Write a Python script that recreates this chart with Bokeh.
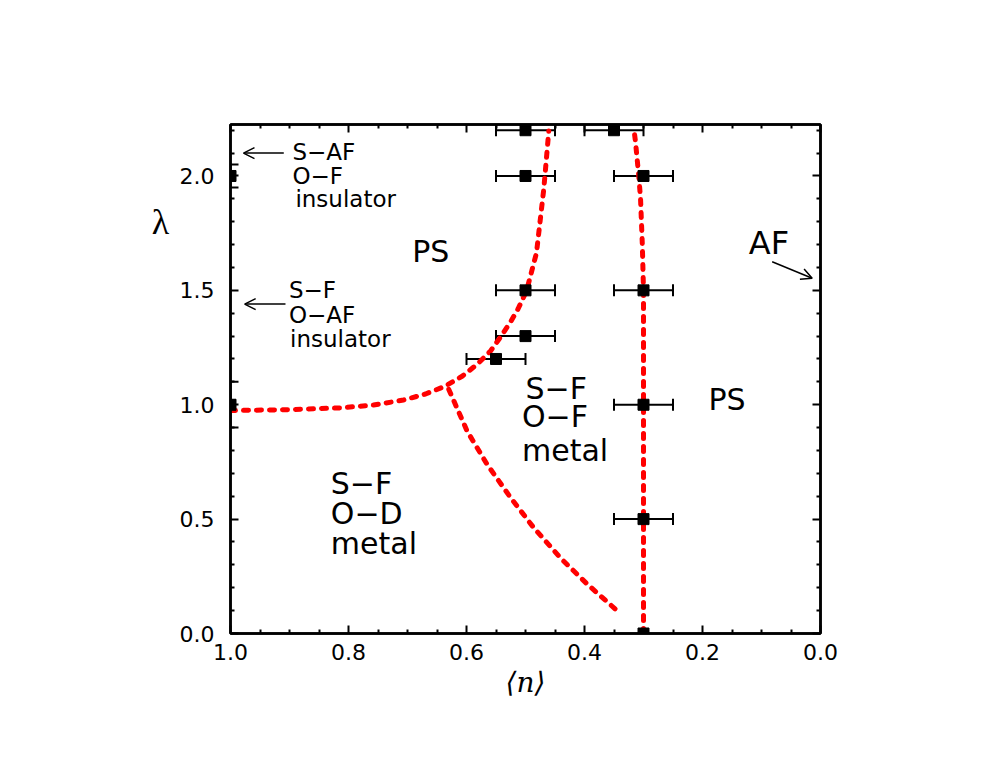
from bokeh.plotting import figure
from bokeh.models import (ColumnDataSource, Whisker, TeeHead, Arrow, OpenHead, Label,
                          LinearAxis, FixedTicker, Range1d, PrintfTickFormatter)
from bokeh.embed import file_html
from bokeh.resources import INLINE

# ---------------- data ----------------
x_major = [0.0, 0.2, 0.4, 0.6, 0.8, 1.0]
x_minor = [0.05, 0.1, 0.15, 0.25, 0.3, 0.35, 0.45, 0.5, 0.55, 0.65, 0.7, 0.75, 0.85, 0.9, 0.95]
y_major = [0.0, 0.5, 1.0, 1.5, 2.0]
y_minor = [0.1, 0.2, 0.3, 0.4, 0.6, 0.7, 0.8, 0.9, 1.1, 1.2, 1.3, 1.4,
           1.6, 1.7, 1.8, 1.9, 2.1, 2.2]

# phase boundaries (dashed red)
b1_n = [1.0, 0.8983, 0.8136, 0.7576, 0.7068, 0.6695, 0.6356, 0.6068, 0.5814, 0.5593,
        0.5424, 0.5254, 0.5127, 0.4983, 0.4814, 0.4690, 0.4605]
b1_l = [0.9746, 0.9786, 0.9864, 0.9987, 1.0206, 1.0468, 1.0818, 1.1255, 1.1779, 1.2347,
        1.2960, 1.3616, 1.4184, 1.4972, 1.6634, 1.9432, 2.197]
b2_n = [0.63, 0.599, 0.565, 0.525, 0.486, 0.441, 0.395, 0.347]
b2_l = [1.067, 0.885, 0.739, 0.593, 0.462, 0.331, 0.215, 0.105]
b3_n = [0.3, 0.3, 0.3, 0.3, 0.302, 0.305, 0.308, 0.3136, 0.316]
b3_l = [0.0, 0.5, 1.0, 1.5, 1.7, 1.9, 2.0, 2.15, 2.2]

# simulation points
pt_n = [1.0, 1.0, 0.5, 0.35, 0.5, 0.3, 0.5, 0.3, 0.5, 0.55, 0.3, 0.3, 0.3]
pt_l = [2.0, 1.0, 2.2, 2.2, 2.0, 2.0, 1.5, 1.5, 1.3, 1.2, 1.0, 0.5, 0.0]

# horizontal error bars
hx_n = [0.5, 0.35, 0.5, 0.3, 0.5, 0.3, 0.5, 0.55, 0.3, 0.3]
hx_l = [2.2, 2.2, 2.0, 2.0, 1.5, 1.5, 1.3, 1.2, 1.0, 0.5]
hx_err = [0.05, 0.05, 0.05, 0.05, 0.05, 0.05, 0.05, 0.05, 0.05, 0.05]

# vertical error bars
vy_n = [1.0, 1.0]
vy_l = [2.0, 1.0]
vy_err = [0.05, 0.1]

# region labels: (text, n, lambda)
small_labels = [("S\u2212AF", 0.895, 2.066), ("O\u2212F", 0.895, 1.961), ("insulator", 0.890, 1.862),
                ("S\u2212F", 0.901, 1.461), ("O\u2212AF", 0.901, 1.352), ("insulator", 0.899, 1.249)]
big_labels = [("PS", 0.692, 1.621), ("PS", 0.190, 0.976),
              ("S\u2212F", 0.500, 1.023), ("O\u2212F", 0.506, 0.902), ("metal", 0.506, 0.754),
              ("S\u2212F", 0.830, 0.608), ("O\u2212D", 0.830, 0.477), ("metal", 0.830, 0.346)]
af_label = ("AF", 0.1215, 1.655)

arrows = [(0.9097, 2.10, 0.978, 2.10), (0.9068, 1.44, 0.976, 1.44), (0.0819, 1.625, 0.0141, 1.553)]

# ---------------- figure ----------------
p = figure(x_range=Range1d(1.0, 0.0), y_range=Range1d(0.0, 2.225),
           width=969, height=745,
           min_border_left=230, min_border_right=149, min_border_top=124, min_border_bottom=112,
           toolbar_location=None, output_backend="svg", x_axis_label="\u27e8n\u27e9")
p.grid.visible = False
p.outline_line_color = "black"
p.outline_line_width = 2.5
p.background_fill_color = "white"
p.border_fill_color = "white"

xt = FixedTicker(ticks=x_major, minor_ticks=x_minor)
yt = FixedTicker(ticks=y_major, minor_ticks=y_minor)

p.add_layout(LinearAxis(), "above")
p.add_layout(LinearAxis(), "right")

for ax in p.xaxis:
    ax.ticker = xt
for ax in p.yaxis:
    ax.ticker = yt

for ax in list(p.xaxis) + list(p.yaxis):
    ax.axis_line_width = 2.5
    ax.axis_line_color = "black"
    ax.major_tick_in = 8
    ax.major_tick_out = 0
    ax.minor_tick_in = 4
    ax.minor_tick_out = 0
    ax.major_tick_line_width = 2
    ax.minor_tick_line_width = 2
    ax.major_tick_line_color = "black"
    ax.minor_tick_line_color = "black"
    ax.formatter = PrintfTickFormatter(format="%.1f")
    ax.major_label_text_font = "DejaVu Sans"
    ax.major_label_text_font_size = "22px"
    ax.major_label_text_color = "black"

# mirrored axes: ticks only
p.above[0].major_label_text_color = None
p.right[0].major_label_text_color = None

p.below[0].major_label_standoff = 10
p.left[0].major_label_standoff = 16
p.below[0].axis_label_text_font = "DejaVu Serif"
p.below[0].axis_label_text_font_style = "italic"
p.below[0].axis_label_text_font_size = "28px"
p.below[0].axis_label_standoff = 3
p.below[0].axis_label_text_color = "black"

# boundaries
for xs, ys in [(b1_n, b1_l), (b2_n, b2_l), (b3_n, b3_l)]:
    p.line(xs, ys, line_color="red", line_width=5, line_dash="5 8", line_cap="round")

# horizontal error bars
src_h = ColumnDataSource(dict(base=hx_l,
                              lower=[n - e for n, e in zip(hx_n, hx_err)],
                              upper=[n + e for n, e in zip(hx_n, hx_err)]))
p.add_layout(Whisker(source=src_h, base="base", lower="lower", upper="upper", dimension="width",
                     line_color="black", line_width=2,
                     lower_head=TeeHead(size=12, line_width=2, line_color="black"),
                     upper_head=TeeHead(size=12, line_width=2, line_color="black")))

# points
p.scatter(pt_n, pt_l, marker="square", size=11, fill_color="black", line_color="black")

# vertical error bars on the left frame edge (drawn in the side panel so they are not clipped);
# the square head at the start repeats the point marker in full
for n, l, e in zip(vy_n, vy_l, vy_err):
    p.add_layout(Arrow(x_start=n, y_start=l, x_end=n, y_end=l + e, line_width=2, line_color="black",
                       start=TeeHead(size=11, line_width=11, line_color="black"),
                       end=TeeHead(size=16, line_width=2, line_color="black")), "left")
    p.add_layout(Arrow(x_start=n, y_start=l, x_end=n, y_end=l - e, line_width=2, line_color="black",
                       end=TeeHead(size=16, line_width=2, line_color="black")), "left")

# point on the bottom frame edge, shown in full
for n, l in zip(pt_n, pt_l):
    if l == 0.0:
        p.add_layout(Arrow(x_start=n, y_start=l, x_end=n, y_end=l + 0.02, line_alpha=0,
                           start=TeeHead(size=11, line_width=11, line_color="black"),
                           end=None), "below")

# arrows
for xs_, ys_, xe_, ye_ in arrows:
    p.add_layout(Arrow(x_start=xs_, y_start=ys_, x_end=xe_, y_end=ye_, line_width=1.5, line_color="black",
                       end=OpenHead(size=11, line_width=1.5, line_color="black")))

# labels
def add_label(t, x, y, fs, font="DejaVu Sans", align="left", place="center"):
    lab = Label(x=x, y=y, text=t, text_font=font, text_font_size=f"{fs}px",
                text_align=align, text_baseline="alphabetic", text_color="black",
                y_offset=round(0.37 * fs))
    p.add_layout(lab, place)

for t, x, y in small_labels:
    add_label(t, x, y, 23)
for t, x, y in big_labels:
    add_label(t, x, y, 30)
add_label(af_label[0], af_label[1], af_label[2], 32)

# y-axis label (horizontal lambda), placed in the left side panel so it is not clipped
add_label("\u03bb", 1.1186, 1.742, 36, font="Liberation Serif", align="center", place="left")

open("out.html", "w").write(file_html(p, INLINE))
